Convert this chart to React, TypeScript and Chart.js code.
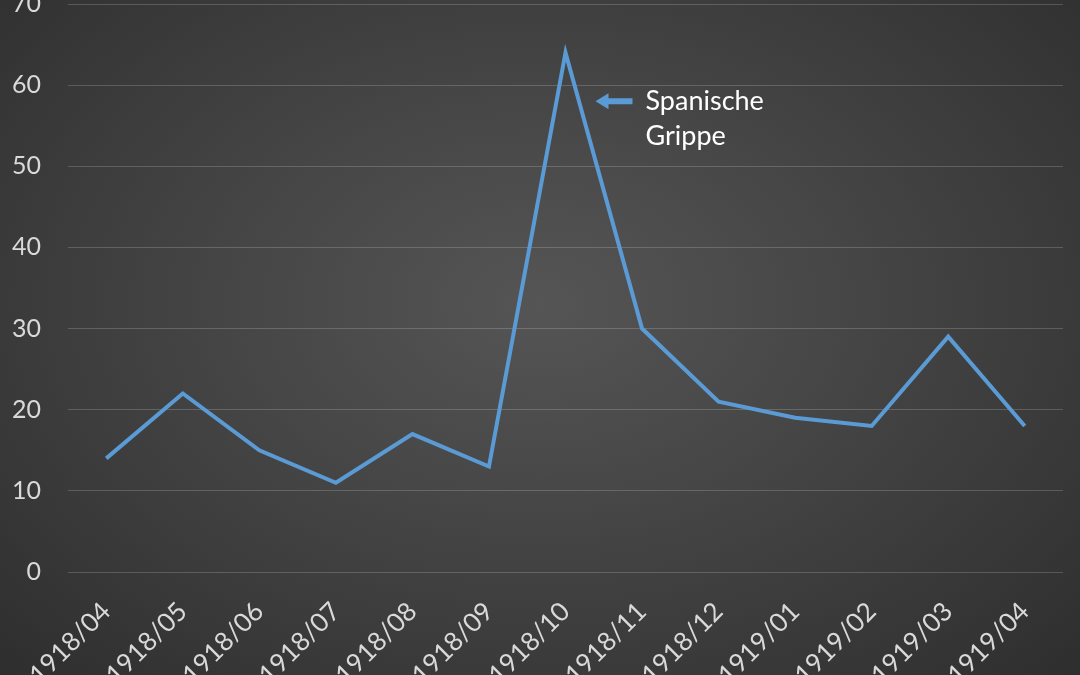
import { useEffect, useRef } from 'react';
import { Chart, registerables, Plugin } from 'chart.js';

Chart.register(...registerables);

const months = [
  '1918/04', '1918/05', '1918/06', '1918/07', '1918/08', '1918/09', '1918/10',
  '1918/11', '1918/12', '1919/01', '1919/02', '1919/03', '1919/04',
];
const deaths = [14, 22, 15, 11, 17, 13, 64, 30, 21, 19, 18, 29, 18];

const noteIndex = 6;
const noteValue = 58;
const noteLines = ['Spanische', 'Grippe'];

const FONT = 'Lato, "Open Sans", sans-serif';
const BLUE = '#5b9bd5';

// arrow + text next to the peak
const notePlugin: Plugin<'line'> = {
  id: 'note',
  afterDatasetsDraw(chart) {
    const { ctx, scales } = chart;
    const x = scales.x.getPixelForValue(noteIndex) + 30;
    const y = scales.y.getPixelForValue(noteValue);
    ctx.save();
    ctx.fillStyle = BLUE;
    ctx.beginPath();
    ctx.moveTo(x, y);
    ctx.lineTo(x + 13, y - 8);
    ctx.lineTo(x + 13, y - 3);
    ctx.lineTo(x + 37, y - 3);
    ctx.lineTo(x + 37, y + 3);
    ctx.lineTo(x + 13, y + 3);
    ctx.lineTo(x + 13, y + 8);
    ctx.closePath();
    ctx.fill();

    ctx.fillStyle = '#ffffff';
    ctx.font = `27px ${FONT}`;
    ctx.textBaseline = 'middle';
    ctx.textAlign = 'left';
    noteLines.forEach((line, i) => {
      ctx.fillText(line, x + 50, y + i * 35);
    });
    ctx.restore();
  },
};

export default function App() {
  const canvasRef = useRef<HTMLCanvasElement>(null);

  useEffect(() => {
    if (!canvasRef.current) return;
    const chart = new Chart(canvasRef.current, {
      type: 'line',
      data: {
        labels: months,
        datasets: [{
          data: deaths,
          borderColor: BLUE,
          borderWidth: 4,
          pointRadius: 0,
          tension: 0,
          fill: false,
        }],
      },
      options: {
        responsive: true,
        maintainAspectRatio: false,
        animation: false,
        layout: { padding: { top: 5, right: 17, left: 0, bottom: 0 } },
        plugins: { legend: { display: false }, tooltip: { enabled: false } },
        scales: {
          x: {
            offset: true,
            grid: { display: false },
            border: { display: false },
            ticks: {
              color: '#d9d9d9',
              font: { family: FONT, size: 26 },
              minRotation: 45,
              maxRotation: 45,
              padding: 16,
            },
            afterFit: (scale) => { scale.height = 128; },
          },
          y: {
            min: 0,
            max: 70,
            grid: { color: 'rgba(255,255,255,0.18)', lineWidth: 1, drawTicks: false },
            border: { display: false },
            ticks: {
              stepSize: 10,
              color: '#d9d9d9',
              font: { family: FONT, size: 25 },
              padding: 27,
            },
            afterFit: (scale) => { scale.width = 68; },
          },
        },
      },
      plugins: [notePlugin],
    });
    return () => chart.destroy();
  }, []);

  return (
    <div
      style={{
        position: 'fixed',
        left: 0,
        top: 0,
        width: 1080,
        height: 675,
        overflow: 'hidden',
        background: 'radial-gradient(ellipse at 50% 45%, #555555 0%, #464646 40%, #2e2e2e 100%)',
      }}
    >
      <div style={{ position: 'absolute', left: 0, top: -38, width: 1080, height: 738 }}>
        <canvas ref={canvasRef} />
      </div>
    </div>
  );
}
